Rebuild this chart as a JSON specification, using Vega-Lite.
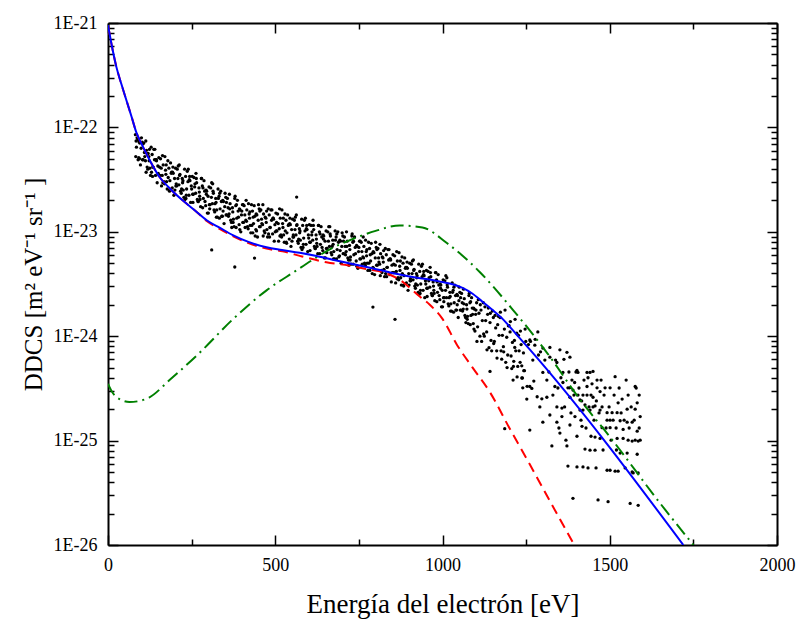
{
 "$schema": "https://vega.github.io/schema/vega-lite/v6.json",
 "width": 669, "height": 522,
 "autosize": {"type": "none"},
 "padding": {"left": 108, "top": 23, "right": 21, "bottom": 74},
 "background": "white",
 "config": {"font": "Liberation Serif", "view": {"stroke": null}, "axis": {"labelFont": "Liberation Serif", "titleFont": "Liberation Serif", "labelColor": "black", "titleColor": "black", "domainColor": "black", "tickColor": "black", "grid": false, "domainWidth": 2, "tickWidth": 1.5, "labelFontSize": 18, "titleFontSize": 24, "titleFontWeight": "normal"}},
 "datasets": {
  "pts": [
{"e":82,"d":8.51e-23},{"e":85,"d":6.46e-23},{"e":89,"d":7.59e-23},
{"e":92,"d":5.13e-23},{"e":95,"d":7.08e-23},{"e":99,"d":6.31e-23},
{"e":102,"d":7.24e-23},{"e":105,"d":4.90e-23},{"e":109,"d":5.75e-23},
{"e":112,"d":4.79e-23},{"e":115,"d":6.03e-23},{"e":119,"d":3.98e-23},
{"e":122,"d":5.25e-23},{"e":125,"d":4.07e-23},{"e":129,"d":6.46e-23},
{"e":132,"d":5.50e-23},{"e":135,"d":4.17e-23},{"e":139,"d":4.90e-23},
{"e":142,"d":3.47e-23},{"e":145,"d":4.79e-23},{"e":149,"d":4.27e-23},
{"e":152,"d":5.13e-23},{"e":155,"d":3.47e-23},{"e":159,"d":4.07e-23},
{"e":162,"d":3.47e-23},{"e":165,"d":4.37e-23},{"e":169,"d":2.88e-23},
{"e":172,"d":3.89e-23},{"e":175,"d":3.02e-23},{"e":179,"d":4.79e-23},
{"e":182,"d":4.07e-23},{"e":185,"d":3.09e-23},{"e":189,"d":3.63e-23},
{"e":192,"d":2.63e-23},{"e":195,"d":3.63e-23},{"e":199,"d":3.24e-23},
{"e":202,"d":4.07e-23},{"e":205,"d":2.75e-23},{"e":209,"d":3.24e-23},
{"e":212,"d":2.82e-23},{"e":215,"d":3.55e-23},{"e":219,"d":2.34e-23},
{"e":222,"d":3.24e-23},{"e":225,"d":2.51e-23},{"e":229,"d":3.98e-23},
{"e":232,"d":3.39e-23},{"e":235,"d":2.57e-23},{"e":239,"d":3.02e-23},
{"e":242,"d":2.24e-23},{"e":245,"d":3.09e-23},{"e":249,"d":2.75e-23},
{"e":252,"d":3.39e-23},{"e":255,"d":2.29e-23},{"e":259,"d":2.69e-23},
{"e":262,"d":2.34e-23},{"e":265,"d":2.95e-23},{"e":269,"d":1.95e-23},
{"e":272,"d":2.63e-23},{"e":275,"d":2.04e-23},{"e":279,"d":3.24e-23},
{"e":282,"d":2.75e-23},{"e":285,"d":2.09e-23},{"e":289,"d":2.45e-23},
{"e":292,"d":1.78e-23},{"e":295,"d":2.45e-23},{"e":299,"d":2.19e-23},
{"e":302,"d":2.69e-23},{"e":305,"d":1.82e-23},{"e":309,"d":2.14e-23},
{"e":312,"d":1.86e-23},{"e":315,"d":2.34e-23},{"e":319,"d":1.55e-23},
{"e":322,"d":2.09e-23},{"e":325,"d":1.62e-23},{"e":329,"d":2.57e-23},
{"e":332,"d":2.19e-23},{"e":335,"d":1.66e-23},{"e":339,"d":1.95e-23},
{"e":342,"d":1.41e-23},{"e":345,"d":1.95e-23},{"e":349,"d":1.74e-23},
{"e":352,"d":2.14e-23},{"e":355,"d":1.45e-23},{"e":359,"d":1.70e-23},
{"e":362,"d":1.48e-23},{"e":365,"d":1.86e-23},{"e":369,"d":1.23e-23},
{"e":372,"d":1.70e-23},{"e":375,"d":1.32e-23},{"e":379,"d":2.09e-23},
{"e":382,"d":1.78e-23},{"e":385,"d":1.35e-23},{"e":389,"d":1.58e-23},
{"e":392,"d":1.17e-23},{"e":395,"d":1.62e-23},{"e":399,"d":1.45e-23},
{"e":402,"d":1.82e-23},{"e":405,"d":1.23e-23},{"e":409,"d":1.45e-23},
{"e":412,"d":1.29e-23},{"e":415,"d":1.62e-23},{"e":419,"d":1.07e-23},
{"e":422,"d":1.48e-23},{"e":425,"d":1.15e-23},{"e":429,"d":1.82e-23},
{"e":432,"d":1.58e-23},{"e":435,"d":1.20e-23},{"e":439,"d":1.41e-23},
{"e":442,"d":1.05e-23},{"e":445,"d":1.45e-23},{"e":449,"d":1.29e-23},
{"e":452,"d":1.66e-23},{"e":455,"d":1.12e-23},{"e":459,"d":1.32e-23},
{"e":462,"d":1.17e-23},{"e":465,"d":1.48e-23},{"e":469,"d":9.77e-24},
{"e":472,"d":1.35e-23},{"e":475,"d":1.05e-23},{"e":479,"d":1.66e-23},
{"e":482,"d":1.45e-23},{"e":485,"d":1.10e-23},{"e":489,"d":1.29e-23},
{"e":492,"d":9.55e-24},{"e":495,"d":1.32e-23},{"e":499,"d":1.17e-23},
{"e":502,"d":1.51e-23},{"e":505,"d":1.02e-23},{"e":509,"d":1.20e-23},
{"e":512,"d":1.07e-23},{"e":515,"d":1.35e-23},{"e":519,"d":8.91e-24},
{"e":522,"d":1.20e-23},{"e":525,"d":9.33e-24},{"e":529,"d":1.48e-23},
{"e":532,"d":1.29e-23},{"e":535,"d":9.77e-24},{"e":539,"d":1.15e-23},
{"e":542,"d":8.51e-24},{"e":545,"d":1.17e-23},{"e":549,"d":1.05e-23},
{"e":552,"d":1.32e-23},{"e":555,"d":8.91e-24},{"e":559,"d":1.05e-23},
{"e":562,"d":9.33e-24},{"e":565,"d":1.17e-23},{"e":569,"d":7.76e-24},
{"e":572,"d":1.07e-23},{"e":575,"d":8.32e-24},{"e":579,"d":1.32e-23},
{"e":582,"d":1.15e-23},{"e":585,"d":8.71e-24},{"e":589,"d":1.02e-23},
{"e":592,"d":7.59e-24},{"e":595,"d":1.05e-23},{"e":599,"d":9.33e-24},
{"e":602,"d":1.17e-23},{"e":605,"d":7.94e-24},{"e":609,"d":9.33e-24},
{"e":612,"d":8.32e-24},{"e":615,"d":1.05e-23},{"e":619,"d":6.92e-24},
{"e":622,"d":9.33e-24},{"e":625,"d":7.24e-24},{"e":629,"d":1.15e-23},
{"e":632,"d":1.00e-23},{"e":635,"d":7.59e-24},{"e":639,"d":8.91e-24},
{"e":642,"d":6.61e-24},{"e":645,"d":9.12e-24},{"e":649,"d":8.13e-24},
{"e":652,"d":1.02e-23},{"e":655,"d":6.92e-24},{"e":659,"d":8.13e-24},
{"e":662,"d":7.24e-24},{"e":665,"d":9.12e-24},{"e":669,"d":6.03e-24},
{"e":672,"d":8.32e-24},{"e":675,"d":6.46e-24},{"e":679,"d":1.02e-23},
{"e":682,"d":8.91e-24},{"e":685,"d":6.76e-24},{"e":689,"d":7.94e-24},
{"e":692,"d":5.89e-24},{"e":695,"d":8.13e-24},{"e":699,"d":7.24e-24},
{"e":702,"d":9.12e-24},{"e":705,"d":6.17e-24},{"e":709,"d":7.24e-24},
{"e":712,"d":6.46e-24},{"e":715,"d":8.13e-24},{"e":719,"d":5.37e-24},
{"e":722,"d":7.41e-24},{"e":725,"d":5.75e-24},{"e":729,"d":9.12e-24},
{"e":732,"d":7.94e-24},{"e":735,"d":6.03e-24},{"e":739,"d":7.08e-24},
{"e":742,"d":5.25e-24},{"e":745,"d":7.24e-24},{"e":749,"d":6.46e-24},
{"e":752,"d":8.13e-24},{"e":755,"d":5.50e-24},{"e":759,"d":6.46e-24},
{"e":762,"d":5.75e-24},{"e":765,"d":7.24e-24},{"e":769,"d":4.79e-24},
{"e":772,"d":6.46e-24},{"e":775,"d":5.01e-24},{"e":779,"d":7.94e-24},
{"e":782,"d":6.92e-24},{"e":785,"d":5.25e-24},{"e":789,"d":6.17e-24},
{"e":792,"d":4.57e-24},{"e":795,"d":6.31e-24},{"e":799,"d":5.62e-24},
{"e":802,"d":7.08e-24},{"e":805,"d":4.79e-24},{"e":809,"d":5.62e-24},
{"e":812,"d":4.90e-24},{"e":815,"d":6.17e-24},{"e":819,"d":4.07e-24},
{"e":822,"d":5.62e-24},{"e":825,"d":4.37e-24},{"e":829,"d":6.92e-24},
{"e":832,"d":6.03e-24},{"e":835,"d":4.57e-24},{"e":839,"d":5.37e-24},
{"e":842,"d":3.89e-24},{"e":845,"d":5.37e-24},{"e":849,"d":4.79e-24},
{"e":852,"d":6.03e-24},{"e":855,"d":4.07e-24},{"e":859,"d":4.79e-24},
{"e":862,"d":4.17e-24},{"e":865,"d":5.25e-24},{"e":869,"d":3.47e-24},
{"e":872,"d":4.68e-24},{"e":875,"d":3.63e-24},{"e":879,"d":5.75e-24},
{"e":882,"d":5.01e-24},{"e":885,"d":3.80e-24},{"e":889,"d":4.47e-24},
{"e":892,"d":3.24e-24},{"e":895,"d":4.47e-24},{"e":899,"d":3.98e-24},
{"e":902,"d":5.01e-24},{"e":905,"d":3.39e-24},{"e":909,"d":3.98e-24},
{"e":912,"d":3.47e-24},{"e":915,"d":4.37e-24},{"e":919,"d":2.88e-24},
{"e":922,"d":3.98e-24},{"e":925,"d":3.09e-24},{"e":929,"d":4.90e-24},
{"e":932,"d":4.17e-24},{"e":935,"d":3.16e-24},{"e":939,"d":3.72e-24},
{"e":942,"d":2.75e-24},{"e":945,"d":3.80e-24},{"e":949,"d":3.39e-24},
{"e":952,"d":4.27e-24},{"e":955,"d":2.88e-24},{"e":959,"d":3.39e-24},
{"e":962,"d":2.95e-24},{"e":965,"d":3.72e-24},{"e":969,"d":2.45e-24},
{"e":972,"d":3.31e-24},{"e":975,"d":2.57e-24},{"e":979,"d":4.07e-24},
{"e":982,"d":3.47e-24},{"e":985,"d":2.63e-24},{"e":989,"d":3.09e-24},
{"e":992,"d":2.24e-24},{"e":995,"d":3.09e-24},{"e":999,"d":2.75e-24},
{"e":1002,"d":3.47e-24},{"e":1005,"d":2.34e-24},{"e":1009,"d":2.75e-24},
{"e":1012,"d":2.34e-24},{"e":1015,"d":2.95e-24},{"e":1019,"d":1.95e-24},
{"e":1022,"d":2.63e-24},{"e":1025,"d":2.04e-24},{"e":1029,"d":3.24e-24},
{"e":1032,"d":2.75e-24},{"e":1035,"d":2.09e-24},{"e":1039,"d":2.45e-24},
{"e":1042,"d":1.78e-24},{"e":1045,"d":2.45e-24},{"e":1049,"d":2.19e-24},
{"e":1052,"d":2.63e-24},{"e":1055,"d":1.78e-24},{"e":1059,"d":2.09e-24},
{"e":1062,"d":1.82e-24},{"e":1065,"d":2.29e-24},{"e":1069,"d":1.51e-24},
{"e":1072,"d":2.00e-24},{"e":1075,"d":1.55e-24},{"e":1079,"d":2.45e-24},
{"e":1082,"d":2.09e-24},{"e":1085,"d":1.58e-24},{"e":1089,"d":1.86e-24},
{"e":1092,"d":1.32e-24},{"e":1095,"d":1.82e-24},{"e":1099,"d":1.62e-24},
{"e":1102,"d":2.09e-24},{"e":1105,"d":1.23e-24},{"e":1109,"d":1.66e-24},
{"e":1112,"d":1.00e-24},{"e":1115,"d":1.78e-24},{"e":1119,"d":1.41e-24},
{"e":1122,"d":2.09e-24},{"e":1125,"d":1.00e-24},{"e":1129,"d":1.41e-24},
{"e":1132,"d":1.10e-24},{"e":1135,"d":1.62e-24},{"e":1139,"d":7.76e-25},
{"e":1142,"d":1.35e-24},{"e":1145,"d":9.12e-25},{"e":1149,"d":1.74e-24},
{"e":1152,"d":1.51e-24},{"e":1155,"d":8.91e-25},{"e":1159,"d":1.20e-24},
{"e":1162,"d":7.24e-25},{"e":1165,"d":1.29e-24},{"e":1169,"d":1.02e-24},
{"e":1172,"d":1.51e-24},{"e":1175,"d":7.24e-25},{"e":1179,"d":1.02e-24},
{"e":1182,"d":7.94e-25},{"e":1185,"d":1.17e-24},{"e":1189,"d":5.62e-25},
{"e":1192,"d":9.77e-25},{"e":1195,"d":6.61e-25},{"e":1199,"d":1.26e-24},
{"e":1202,"d":1.10e-24},{"e":1205,"d":6.46e-25},{"e":1209,"d":8.71e-25},
{"e":1212,"d":5.13e-25},{"e":1215,"d":9.12e-25},{"e":1219,"d":7.24e-25},
{"e":1222,"d":1.07e-24},{"e":1225,"d":5.13e-25},{"e":1229,"d":7.24e-25},
{"e":1232,"d":5.62e-25},{"e":1235,"d":8.32e-25},{"e":1239,"d":3.98e-25},
{"e":1242,"d":6.92e-25},{"e":1245,"d":4.68e-25},{"e":1249,"d":8.91e-25},
{"e":83,"d":5.25e-23},{"e":87,"d":7.94e-23},{"e":93,"d":7.24e-23},{"e":97,"d":4.37e-23},{"e":103,"d":4.90e-23},{"e":107,"d":7.08e-23},{"e":113,"d":7.41e-23},{"e":117,"d":4.17e-23},{"e":123,"d":4.79e-23},{"e":127,"d":3.47e-23},
{"e":133,"d":3.39e-23},{"e":137,"d":6.17e-23},{"e":143,"d":4.90e-23},{"e":147,"d":2.95e-23},{"e":153,"d":3.47e-23},{"e":157,"d":5.01e-23},{"e":163,"d":5.37e-23},{"e":167,"d":3.02e-23},{"e":173,"d":3.55e-23},{"e":177,"d":2.57e-23},
{"e":183,"d":2.51e-23},{"e":187,"d":4.57e-23},{"e":193,"d":3.72e-23},{"e":197,"d":2.24e-23},{"e":203,"d":2.75e-23},{"e":207,"d":3.98e-23},{"e":213,"d":4.37e-23},{"e":217,"d":2.45e-23},{"e":223,"d":2.95e-23},{"e":227,"d":2.14e-23},
{"e":233,"d":2.09e-23},{"e":237,"d":3.80e-23},{"e":243,"d":3.16e-23},{"e":247,"d":1.91e-23},{"e":253,"d":2.29e-23},{"e":257,"d":3.31e-23},{"e":263,"d":3.63e-23},{"e":267,"d":2.04e-23},{"e":273,"d":2.40e-23},{"e":277,"d":1.74e-23},
{"e":283,"d":1.70e-23},{"e":287,"d":3.09e-23},{"e":293,"d":2.51e-23},{"e":297,"d":1.51e-23},{"e":303,"d":1.82e-23},{"e":307,"d":2.63e-23},{"e":313,"d":2.88e-23},{"e":317,"d":1.62e-23},{"e":323,"d":1.91e-23},{"e":327,"d":1.38e-23},
{"e":333,"d":1.35e-23},{"e":337,"d":2.45e-23},{"e":343,"d":2.00e-23},{"e":347,"d":1.20e-23},{"e":353,"d":1.45e-23},{"e":357,"d":2.09e-23},{"e":363,"d":2.29e-23},{"e":367,"d":1.29e-23},{"e":373,"d":1.55e-23},{"e":377,"d":1.12e-23},
{"e":383,"d":1.10e-23},{"e":387,"d":2.00e-23},{"e":393,"d":1.66e-23},{"e":397,"d":1.00e-23},{"e":403,"d":1.23e-23},{"e":407,"d":1.78e-23},{"e":413,"d":2.00e-23},{"e":417,"d":1.12e-23},{"e":423,"d":1.35e-23},{"e":427,"d":9.77e-24},
{"e":433,"d":9.77e-24},{"e":437,"d":1.78e-23},{"e":443,"d":1.48e-23},{"e":447,"d":8.91e-24},{"e":453,"d":1.12e-23},{"e":457,"d":1.62e-23},{"e":463,"d":1.82e-23},{"e":467,"d":1.02e-23},{"e":473,"d":1.23e-23},{"e":477,"d":8.91e-24},
{"e":483,"d":8.91e-24},{"e":487,"d":1.62e-23},{"e":493,"d":1.35e-23},{"e":497,"d":8.13e-24},{"e":503,"d":1.02e-23},{"e":507,"d":1.48e-23},{"e":513,"d":1.66e-23},{"e":517,"d":9.33e-24},{"e":523,"d":1.10e-23},{"e":527,"d":7.94e-24},
{"e":533,"d":7.94e-24},{"e":537,"d":1.45e-23},{"e":543,"d":1.20e-23},{"e":547,"d":7.24e-24},{"e":553,"d":8.91e-24},{"e":557,"d":1.29e-23},{"e":563,"d":1.45e-23},{"e":567,"d":8.13e-24},{"e":573,"d":9.77e-24},{"e":577,"d":7.08e-24},
{"e":583,"d":7.08e-24},{"e":587,"d":1.29e-23},{"e":593,"d":1.07e-23},{"e":597,"d":6.46e-24},{"e":603,"d":7.94e-24},{"e":607,"d":1.15e-23},{"e":613,"d":1.29e-23},{"e":617,"d":7.24e-24},{"e":623,"d":8.51e-24},{"e":627,"d":6.17e-24},
{"e":633,"d":6.17e-24},{"e":637,"d":1.12e-23},{"e":643,"d":9.33e-24},{"e":647,"d":5.62e-24},{"e":653,"d":6.92e-24},{"e":657,"d":1.00e-23},{"e":663,"d":1.12e-23},{"e":667,"d":6.31e-24},{"e":673,"d":7.59e-24},{"e":677,"d":5.50e-24},
{"e":683,"d":5.50e-24},{"e":687,"d":1.00e-23},{"e":693,"d":8.32e-24},{"e":697,"d":5.01e-24},{"e":703,"d":6.17e-24},{"e":707,"d":8.91e-24},{"e":713,"d":1.00e-23},{"e":717,"d":5.62e-24},{"e":723,"d":6.76e-24},{"e":727,"d":4.90e-24},
{"e":733,"d":4.90e-24},{"e":737,"d":8.91e-24},{"e":743,"d":7.41e-24},{"e":747,"d":4.47e-24},{"e":753,"d":5.50e-24},{"e":757,"d":7.94e-24},{"e":763,"d":8.91e-24},{"e":767,"d":5.01e-24},{"e":773,"d":5.89e-24},{"e":777,"d":4.27e-24},
{"e":783,"d":4.27e-24},{"e":787,"d":7.76e-24},{"e":793,"d":6.46e-24},{"e":797,"d":3.89e-24},{"e":803,"d":4.79e-24},{"e":807,"d":6.92e-24},{"e":813,"d":7.59e-24},{"e":817,"d":4.27e-24},{"e":823,"d":5.13e-24},{"e":827,"d":3.72e-24},
{"e":833,"d":3.72e-24},{"e":837,"d":6.76e-24},{"e":843,"d":5.50e-24},{"e":847,"d":3.31e-24},{"e":853,"d":4.07e-24},{"e":857,"d":5.89e-24},{"e":863,"d":6.46e-24},{"e":867,"d":3.63e-24},{"e":873,"d":4.27e-24},{"e":877,"d":3.09e-24},
{"e":883,"d":3.09e-24},{"e":887,"d":5.62e-24},{"e":893,"d":4.57e-24},{"e":897,"d":2.75e-24},{"e":903,"d":3.39e-24},{"e":907,"d":4.90e-24},{"e":913,"d":5.37e-24},{"e":917,"d":3.02e-24},{"e":923,"d":3.63e-24},{"e":927,"d":2.63e-24},
{"e":933,"d":2.57e-24},{"e":937,"d":4.68e-24},{"e":943,"d":3.89e-24},{"e":947,"d":2.34e-24},{"e":953,"d":2.88e-24},{"e":957,"d":4.17e-24},{"e":963,"d":4.57e-24},{"e":967,"d":2.57e-24},{"e":973,"d":3.02e-24},{"e":977,"d":2.19e-24},
{"e":983,"d":2.14e-24},{"e":987,"d":3.89e-24},{"e":993,"d":3.16e-24},{"e":997,"d":1.91e-24},{"e":1003,"d":2.34e-24},{"e":1007,"d":3.39e-24},{"e":1013,"d":3.63e-24},{"e":1017,"d":2.04e-24},{"e":1023,"d":2.40e-24},{"e":1027,"d":1.74e-24},
{"e":1033,"d":1.70e-24},{"e":1037,"d":3.09e-24},{"e":1043,"d":2.51e-24},{"e":1047,"d":1.51e-24},{"e":1053,"d":1.78e-24},{"e":1057,"d":2.57e-24},{"e":1063,"d":2.82e-24},{"e":1067,"d":1.58e-24},{"e":1073,"d":1.82e-24},{"e":1077,"d":1.32e-24},
{"e":1083,"d":1.29e-24},{"e":1087,"d":2.34e-24},{"e":1093,"d":1.86e-24},{"e":1097,"d":1.12e-24},
{"e":84,"d":7.41e-23},{"e":90,"d":4.90e-23},{"e":94,"d":5.01e-23},{"e":100,"d":7.94e-23},{"e":104,"d":6.92e-23},{"e":110,"d":5.25e-23},{"e":114,"d":3.72e-23},{"e":120,"d":5.62e-23},{"e":124,"d":6.17e-23},{"e":130,"d":3.72e-23},
{"e":134,"d":4.17e-23},{"e":140,"d":6.17e-23},{"e":144,"d":4.90e-23},{"e":150,"d":3.63e-23},{"e":154,"d":4.17e-23},{"e":160,"d":2.75e-23},{"e":164,"d":2.95e-23},{"e":170,"d":5.25e-23},{"e":174,"d":4.37e-23},{"e":180,"d":3.31e-23},
{"e":184,"d":2.45e-23},{"e":190,"d":3.72e-23},{"e":194,"d":4.17e-23},{"e":200,"d":2.51e-23},{"e":204,"d":2.88e-23},{"e":210,"d":4.27e-23},{"e":214,"d":3.47e-23},{"e":220,"d":2.57e-23},{"e":224,"d":3.09e-23},{"e":230,"d":2.04e-23},
{"e":234,"d":2.24e-23},{"e":240,"d":3.98e-23},{"e":244,"d":3.39e-23},{"e":250,"d":2.57e-23},{"e":254,"d":1.91e-23},{"e":260,"d":2.88e-23},{"e":264,"d":3.24e-23},{"e":270,"d":1.95e-23},{"e":274,"d":2.19e-23},{"e":280,"d":3.24e-23},
{"e":284,"d":2.63e-23},{"e":290,"d":1.95e-23},{"e":294,"d":2.29e-23},{"e":300,"d":1.51e-23},{"e":304,"d":1.66e-23},{"e":310,"d":2.95e-23},{"e":314,"d":2.45e-23},{"e":320,"d":1.86e-23},{"e":324,"d":1.38e-23},{"e":330,"d":2.09e-23},
{"e":334,"d":2.34e-23},{"e":340,"d":1.41e-23},{"e":344,"d":1.58e-23},{"e":350,"d":2.34e-23},{"e":354,"d":1.91e-23},{"e":360,"d":1.41e-23},{"e":364,"d":1.66e-23},{"e":370,"d":1.10e-23},{"e":374,"d":1.23e-23},{"e":380,"d":2.19e-23},
{"e":384,"d":1.82e-23},{"e":390,"d":1.38e-23},{"e":394,"d":1.05e-23},{"e":400,"d":1.58e-23},{"e":404,"d":1.82e-23},{"e":410,"d":1.10e-23},{"e":414,"d":1.26e-23},{"e":420,"d":1.86e-23},{"e":424,"d":1.55e-23},{"e":430,"d":1.15e-23},
{"e":434,"d":1.38e-23},{"e":440,"d":9.12e-24},{"e":444,"d":1.02e-23},{"e":450,"d":1.82e-23},{"e":454,"d":1.58e-23},{"e":460,"d":1.20e-23},{"e":464,"d":9.12e-24},{"e":470,"d":1.38e-23},{"e":474,"d":1.58e-23},{"e":480,"d":9.55e-24},
{"e":484,"d":1.10e-23},{"e":490,"d":1.62e-23},{"e":494,"d":1.35e-23},{"e":500,"d":1.00e-23},{"e":504,"d":1.23e-23},{"e":510,"d":8.13e-24},{"e":514,"d":9.12e-24},{"e":520,"d":1.62e-23},{"e":524,"d":1.35e-23},{"e":530,"d":1.02e-23},
{"e":534,"d":7.76e-24},{"e":540,"d":1.17e-23},{"e":544,"d":1.35e-23},{"e":550,"d":8.13e-24},{"e":554,"d":9.33e-24},{"e":560,"d":1.38e-23},{"e":564,"d":1.15e-23},{"e":570,"d":8.51e-24},{"e":574,"d":1.02e-23},{"e":580,"d":6.76e-24},
{"e":584,"d":7.59e-24},{"e":590,"d":1.35e-23},{"e":594,"d":1.15e-23},{"e":600,"d":8.71e-24},{"e":604,"d":6.61e-24},{"e":610,"d":1.00e-23},{"e":614,"d":1.15e-23},{"e":620,"d":6.92e-24},{"e":624,"d":7.76e-24},{"e":630,"d":1.15e-23},
{"e":634,"d":9.55e-24},{"e":640,"d":7.08e-24},{"e":644,"d":8.51e-24},{"e":650,"d":5.62e-24},{"e":654,"d":6.31e-24},{"e":660,"d":1.12e-23},{"e":664,"d":9.55e-24},{"e":670,"d":7.24e-24},{"e":674,"d":5.50e-24},{"e":680,"d":8.32e-24},
{"e":684,"d":9.55e-24},{"e":690,"d":5.75e-24},{"e":694,"d":6.61e-24},{"e":700,"d":9.77e-24},{"e":704,"d":8.13e-24},{"e":710,"d":6.03e-24},{"e":714,"d":7.24e-24},{"e":720,"d":4.79e-24},{"e":724,"d":5.37e-24},{"e":730,"d":9.55e-24},
{"e":734,"d":8.13e-24},{"e":740,"d":6.17e-24},{"e":744,"d":4.68e-24},{"e":750,"d":7.08e-24},{"e":754,"d":8.13e-24},{"e":760,"d":4.90e-24},{"e":764,"d":5.62e-24},{"e":770,"d":8.32e-24},{"e":774,"d":6.76e-24},{"e":780,"d":5.01e-24},
{"e":784,"d":6.03e-24},{"e":790,"d":3.98e-24},{"e":794,"d":4.47e-24},{"e":800,"d":7.94e-24},{"e":804,"d":6.76e-24},{"e":810,"d":5.13e-24},{"e":814,"d":3.80e-24},{"e":820,"d":5.75e-24},{"e":824,"d":6.61e-24},{"e":830,"d":3.98e-24},
{"e":834,"d":4.57e-24},{"e":840,"d":6.76e-24},{"e":844,"d":5.50e-24},{"e":850,"d":4.07e-24},{"e":854,"d":4.90e-24},{"e":860,"d":3.24e-24},{"e":864,"d":3.55e-24},{"e":870,"d":6.31e-24},{"e":874,"d":5.25e-24},{"e":880,"d":3.98e-24},
{"e":884,"d":3.02e-24},{"e":890,"d":4.57e-24},{"e":894,"d":5.13e-24},{"e":900,"d":3.09e-24},{"e":904,"d":3.55e-24},{"e":910,"d":5.25e-24},{"e":914,"d":4.27e-24},{"e":920,"d":3.16e-24},{"e":924,"d":3.80e-24},{"e":930,"d":2.51e-24},
{"e":934,"d":2.75e-24},{"e":940,"d":4.90e-24},{"e":944,"d":4.17e-24},{"e":950,"d":3.16e-24},{"e":954,"d":2.40e-24},{"e":960,"d":3.63e-24},{"e":964,"d":4.07e-24},{"e":970,"d":2.45e-24},{"e":974,"d":2.75e-24},{"e":980,"d":4.07e-24},
{"e":984,"d":3.31e-24},{"e":990,"d":2.45e-24},{"e":994,"d":2.88e-24},{"e":1000,"d":1.91e-24},{"e":1004,"d":2.14e-24},{"e":1010,"d":3.80e-24},{"e":1014,"d":3.09e-24},{"e":1020,"d":2.34e-24},{"e":1024,"d":1.74e-24},{"e":1030,"d":2.63e-24},
{"e":1034,"d":2.95e-24},{"e":1040,"d":1.78e-24},{"e":1044,"d":2.00e-24},{"e":1050,"d":2.95e-24},{"e":1054,"d":2.34e-24},{"e":1060,"d":1.74e-24},{"e":1064,"d":2.04e-24},{"e":1070,"d":1.35e-24},{"e":1074,"d":1.45e-24},{"e":1080,"d":2.57e-24},
{"e":1084,"d":2.14e-24},{"e":1090,"d":1.62e-24},{"e":1094,"d":1.17e-24},{"e":1100,"d":1.78e-24},
{"e":1103,"d":8.91e-25},{"e":1107,"d":2.24e-24},{"e":1113,"d":2.0e-24},{"e":1117,"d":8.91e-25},{"e":1123,"d":1.05e-24},{"e":1127,"d":1.91e-24},{"e":1133,"d":7.41e-25},{"e":1137,"d":1.86e-24},{"e":1143,"d":1.66e-24},{"e":1147,"d":7.24e-25},
{"e":1153,"d":8.51e-25},{"e":1157,"d":1.58e-24},{"e":1163,"d":6.17e-25},{"e":1167,"d":1.55e-24},{"e":1173,"d":1.70e-24},{"e":1177,"d":6.03e-25},{"e":1183,"d":7.08e-25},{"e":1187,"d":1.78e-24},{"e":1193,"d":5.01e-25},{"e":1197,"d":1.26e-24},
{"e":1203,"d":1.38e-24},{"e":1207,"d":4.90e-25},{"e":1213,"d":5.75e-25},{"e":1217,"d":1.45e-24},{"e":1223,"d":4.07e-25},{"e":1227,"d":1.02e-24},{"e":1233,"d":1.12e-24},{"e":1237,"d":3.98e-25},{"e":1243,"d":4.68e-25},{"e":1247,"d":1.17e-24},
{"e":1253,"d":3.31e-25},{"e":1257,"d":8.32e-25},{"e":1263,"d":8.91e-25},{"e":1267,"d":3.16e-25},{"e":1273,"d":3.72e-25},{"e":1277,"d":9.33e-25},{"e":1283,"d":2.63e-25},{"e":1287,"d":6.61e-25},{"e":1293,"d":7.08e-25},{"e":1297,"d":2.51e-25},
{"e":564,"d":2.15e-23},{"e":310,"d":6.7e-24},{"e":379,"d":4.6e-24},{"e":438,"d":5.6e-24},{"e":792,"d":1.9e-24},{"e":858,"d":1.45e-24},
{"e":1211,"d":3.8e-25},{"e":1237,"d":5.2e-25},{"e":1261,"d":3.3e-25},{"e":1252,"d":2.5e-25},{"e":1240,"d":3.2e-25},{"e":1261,"d":1.26e-25},{"e":1186,"d":1.3e-25},{"e":1142,"d":4.6e-25},{"e":1216,"d":7.8e-25},{"e":1300,"d":1.5e-25},{"e":1342,"d":1.5e-25},{"e":1276,"d":8.2e-25},{"e":1306,"d":5.9e-25},
{"e":1261,"d":9.2e-25},{"e":1270,"d":5.9e-25},{"e":1285,"d":1.10e-24},{"e":1291,"d":2.1e-25},{"e":1300,"d":7.7e-25},{"e":1300,"d":4.5e-25},{"e":1312,"d":3.8e-25},{"e":1312,"d":2.6e-25},{"e":1321,"d":7.8e-25},{"e":1321,"d":6.3e-25},
{"e":1321,"d":1.76e-25},{"e":1327,"d":8.9e-26},{"e":1336,"d":3.3e-25},{"e":1342,"d":5.6e-25},{"e":1342,"d":2.1e-25},{"e":1351,"d":7.4e-25},{"e":1351,"d":1.18e-25},{"e":1357,"d":2.05e-25},{"e":1357,"d":1.70e-25},{"e":1360,"d":4.5e-25},
{"e":1360,"d":3.6e-25},{"e":1372,"d":7.0e-25},{"e":1372,"d":8.9e-26},{"e":1375,"d":3.2e-25},{"e":1375,"d":5.7e-26},{"e":1381,"d":6.3e-25},{"e":1381,"d":2.6e-25},{"e":1381,"d":1.41e-25},{"e":1387,"d":3.8e-25},{"e":1390,"d":3.05e-25},
{"e":1390,"d":2.8e-26},{"e":1396,"d":1.70e-25},{"e":1402,"d":4.7e-25},{"e":1402,"d":1.1e-25},{"e":1402,"d":5.6e-26},{"e":1405,"d":4.5e-25},{"e":1405,"d":2.73e-25},{"e":1411,"d":2.45e-25},{"e":1411,"d":1.96e-25},{"e":1417,"d":1.37e-25},
{"e":1420,"d":2.73e-25},{"e":1420,"d":1.96e-25},{"e":1420,"d":5.6e-26},{"e":1426,"d":2.2e-25},{"e":1426,"d":8.3e-26},{"e":1432,"d":4.5e-25},{"e":1432,"d":3.3e-25},{"e":1432,"d":2.73e-25},{"e":1435,"d":4.0e-25},{"e":1441,"d":4.5e-25},
{"e":1441,"d":1.96e-25},{"e":1441,"d":8.1e-26},{"e":1447,"d":3.5e-25},{"e":1450,"d":4.6e-25},{"e":1450,"d":2.6e-25},{"e":1450,"d":2.1e-25},{"e":1456,"d":2.15e-25},{"e":1456,"d":1.08e-25},{"e":1456,"d":8.1e-26},{"e":1462,"d":3.8e-25},
{"e":1462,"d":3.2e-25},{"e":1465,"d":2.7e-26},{"e":1471,"d":2.95e-25},{"e":1471,"d":1.96e-25},{"e":1471,"d":1.05e-25},{"e":1477,"d":2.1e-25},{"e":1477,"d":1.33e-25},{"e":1486,"d":3.2e-25},{"e":1492,"d":1.85e-25},{"e":1492,"d":1.57e-25},
{"e":1492,"d":5.2e-26},{"e":1495,"d":2.6e-26},{"e":1501,"d":3.2e-25},{"e":1501,"d":1.57e-25},{"e":1501,"d":1.33e-25},{"e":1501,"d":5.2e-26},{"e":1507,"d":1.85e-25},{"e":1510,"d":1.57e-25},{"e":1516,"d":4.1e-25},{"e":1516,"d":5.1e-26},
{"e":1522,"d":1.85e-25},{"e":1522,"d":1.05e-25},{"e":1525,"d":2.3e-25},{"e":1525,"d":5.1e-26},{"e":1531,"d":1.55e-25},{"e":1531,"d":7.6e-26},{"e":1537,"d":2.5e-25},{"e":1540,"d":1.28e-25},{"e":1540,"d":1.05e-25},{"e":1552,"d":2.0e-25},
{"e":1552,"d":1.5e-25},{"e":1552,"d":7.6e-26},{"e":1555,"d":2.73e-25},{"e":1555,"d":1.01e-25},{"e":1561,"d":2.5e-26},{"e":1567,"d":1.5e-25},{"e":1567,"d":9.9e-26},{"e":1567,"d":5.0e-26},{"e":1570,"d":4.9e-26},{"e":1576,"d":3.3e-25},
{"e":1576,"d":2.0e-25},{"e":1576,"d":1.01e-25},{"e":1582,"d":2.3e-25},{"e":1582,"d":1.23e-25},{"e":1582,"d":7.4e-26},{"e":1585,"d":9.9e-26},{"e":1585,"d":4.9e-26},{"e":1585,"d":2.4e-26},{"e":1591,"d":1.7e-25},{"e":1591,"d":1.01e-25},
{"e":1318,"d":4.54e-25},{"e":1330,"d":2.73e-25},{"e":1345,"d":3.19e-25},{"e":1348,"d":1.32e-25},{"e":1365,"d":2.10e-25},{"e":1369,"d":1.01e-25},{"e":1378,"d":4.54e-25},{"e":1384,"d":1.84e-25},{"e":1393,"d":2.73e-25},{"e":1399,"d":4.54e-25},
{"e":1408,"d":3.19e-25},{"e":1414,"d":1.57e-25},{"e":1423,"d":3.8e-25},{"e":1429,"d":1.32e-25},{"e":1438,"d":2.10e-25},{"e":1444,"d":2.73e-25},{"e":1453,"d":1.57e-25},{"e":1459,"d":5.47e-26},{"e":1468,"d":1.84e-25},{"e":1474,"d":3.8e-25},
{"e":1480,"d":8.13e-26},{"e":1483,"d":2.73e-25},{"e":1489,"d":1.32e-25},{"e":1498,"d":2.10e-25},{"e":1504,"d":1.01e-25},{"e":1513,"d":2.73e-25},{"e":1519,"d":1.32e-25},{"e":1528,"d":3.19e-25},{"e":1534,"d":1.84e-25},{"e":1543,"d":1.57e-25},
{"e":1546,"d":5.47e-26},{"e":1549,"d":3.8e-25},{"e":1558,"d":1.32e-25},{"e":1564,"d":2.10e-25},{"e":1573,"d":1.57e-25},{"e":1579,"d":3.19e-25},{"e":1588,"d":1.32e-25},{"e":1588,"d":2.73e-25},{"e":1338,"d":5.9e-25},{"e":1354,"d":4.0e-25},
{"e":1363,"d":6.0e-25},{"e":1380,"d":3.2e-25},{"e":1395,"d":3.6e-25},{"e":1416,"d":2.4e-25},{"e":1444,"d":1.1e-25},{"e":1460,"d":2.4e-25},{"e":1520,"d":8.13e-26},{"e":1435,"d":5.47e-26}
  ],
  "blue": [
{"e":0,"d":9.55e-22},{"e":5,"d":7.8e-22},{"e":10,"d":6.4e-22},{"e":25,"d":3.8e-22},{"e":40,"d":2.6e-22},{"e":55,"d":1.82e-22},{"e":70,"d":1.28e-22},{"e":85,"d":8.9e-23},{"e":100,"d":7.0e-23},{"e":124,"d":4.9e-23},{"e":154,"d":3.35e-23},{"e":185,"d":2.6e-23},{"e":223,"d":2.0e-23},{"e":260,"d":1.6e-23},{"e":295,"d":1.29e-23},{"e":335,"d":1.09e-23},{"e":373,"d":9.3e-24},{"e":420,"d":8.0e-24},{"e":474,"d":7.1e-24},{"e":520,"d":6.7e-24},{"e":573,"d":6.3e-24},{"e":620,"d":5.9e-24},{"e":672,"d":5.4e-24},{"e":720,"d":5.0e-24},{"e":773,"d":4.6e-24},{"e":820,"d":4.25e-24},{"e":872,"d":3.9e-24},{"e":920,"d":3.65e-24},{"e":960,"d":3.5e-24},{"e":1000,"d":3.3e-24},{"e":1030,"d":3.15e-24},{"e":1060,"d":2.9e-24},{"e":1090,"d":2.55e-24},{"e":1112,"d":2.24e-24},{"e":1150,"d":1.78e-24},{"e":1181,"d":1.45e-24},{"e":1220,"d":1.05e-24},{"e":1262,"d":7.4e-25},{"e":1720,"d":1.0e-26}
  ],
  "red": [
{"e":0,"d":9.55e-22},{"e":5,"d":7.8e-22},{"e":10,"d":6.4e-22},{"e":25,"d":3.8e-22},{"e":40,"d":2.6e-22},{"e":55,"d":1.82e-22},{"e":70,"d":1.28e-22},{"e":85,"d":8.9e-23},{"e":100,"d":7.0e-23},{"e":124,"d":4.9e-23},{"e":154,"d":3.35e-23},{"e":185,"d":2.6e-23},{"e":223,"d":2.0e-23},{"e":260,"d":1.6e-23},{"e":295,"d":1.27e-23},{"e":335,"d":1.06e-23},{"e":373,"d":9.1e-24},{"e":420,"d":7.8e-24},{"e":474,"d":6.9e-24},{"e":522,"d":6.5e-24},{"e":580,"d":5.8e-24},{"e":653,"d":5.1e-24},{"e":720,"d":4.75e-24},{"e":780,"d":4.35e-24},{"e":822,"d":4.1e-24},{"e":872,"d":3.47e-24},{"e":932,"d":2.4e-24},{"e":962,"d":2.0e-24},{"e":1001,"d":1.45e-24},{"e":1043,"d":8.3e-25},{"e":1090,"d":5.0e-25},{"e":1142,"d":2.9e-25},{"e":1200,"d":1.32e-25},{"e":1260,"d":6.0e-26},{"e":1328,"d":2.4e-26},{"e":1394,"d":1.0e-26}
  ],
  "green": [
{"e":0,"d":3.5e-25},{"e":13,"d":2.9e-25},{"e":40,"d":2.45e-25},{"e":64,"d":2.34e-25},{"e":95,"d":2.4e-25},{"e":124,"d":2.6e-25},{"e":184,"d":3.8e-25},{"e":273,"d":6.9e-25},{"e":373,"d":1.45e-24},{"e":474,"d":2.75e-24},{"e":560,"d":4.2e-24},{"e":612,"d":5.4e-24},{"e":663,"d":6.8e-24},{"e":723,"d":8.3e-24},{"e":800,"d":1.02e-23},{"e":872,"d":1.15e-23},{"e":940,"d":1.10e-23},{"e":1013,"d":7.8e-24},{"e":1060,"d":5.9e-24},{"e":1112,"d":4.1e-24},{"e":1211,"d":1.78e-24},{"e":1313,"d":6.9e-25},{"e":1412,"d":2.45e-25},{"e":1502,"d":1.07e-25},{"e":1651,"d":2.5e-26},{"e":1750,"d":1.0e-26}
  ]
 },
 "resolve": {"axis": {"x": "independent", "y": "independent"}},
 "layer": [
  {
   "data": {"name": "pts"},
   "mark": {"type": "circle", "size": 11, "color": "black", "opacity": 1},
   "encoding": {
    "x": {"field": "e", "type": "quantitative", "scale": {"domain": [0, 2000], "nice": false},
     "axis": {"orient": "bottom", "values": [0,250,500,750,1000,1250,1500,1750,2000], "labelExpr": "datum.value % 500 === 0 ? '' + datum.value : ''", "tickSize": {"condition": {"test": "datum.value % 500 === 0", "value": -10}, "value": -6}, "labelPadding": 21, "labelFlush": false, "labelOverlap": false, "title": "Energía del electrón [eV]", "titleFontSize": 27, "titlePadding": 13}},
    "y": {"field": "d", "type": "quantitative", "scale": {"type": "log", "domain": [1e-26, 1e-21], "nice": false},
     "axis": {"orient": "left", "values": [1e-26,2e-26,3e-26,4e-26,5e-26,6e-26,7e-26,8e-26,9e-26,1e-25,2e-25,3e-25,4e-25,5e-25,6e-25,7e-25,8e-25,9e-25,1e-24,2e-24,3e-24,4e-24,5e-24,6e-24,7e-24,8e-24,9e-24,1e-23,2e-23,3e-23,4e-23,5e-23,6e-23,7e-23,8e-23,9e-23,1e-22,2e-22,3e-22,4e-22,5e-22,6e-22,7e-22,8e-22,9e-22,1e-21],
      "labelExpr": "abs(log(datum.value)/LN10 - round(log(datum.value)/LN10)) < 0.001 ? '1E' + round(log(datum.value)/LN10) : ''",
      "tickSize": {"condition": {"test": "abs(log(datum.value)/LN10 - round(log(datum.value)/LN10)) < 0.001", "value": -10}, "value": -6},
      "labelPadding": 21, "labelFlush": false, "labelOverlap": false, "title": "DDCS [m² eV⁻¹ sr⁻¹ ]", "titleFontSize": 25, "titlePadding": 7}}
   }
  },
  {
   "data": {"name": "green"},
   "mark": {"type": "line", "color": "#008000", "strokeWidth": 2, "strokeDash": [13, 5, 2, 5], "interpolate": "monotone", "clip": true},
   "encoding": {
    "x": {"field": "e", "type": "quantitative", "scale": {"domain": [0, 2000], "nice": false},
     "axis": {"orient": "top", "values": [0,250,500,750,1000,1250,1500,1750,2000], "labels": false, "title": null, "tickSize": {"condition": {"test": "datum.value % 500 === 0", "value": -10}, "value": -6}}},
    "y": {"field": "d", "type": "quantitative", "scale": {"type": "log", "domain": [1e-26, 1e-21], "nice": false},
     "axis": {"orient": "right", "values": [1e-26,2e-26,3e-26,4e-26,5e-26,6e-26,7e-26,8e-26,9e-26,1e-25,2e-25,3e-25,4e-25,5e-25,6e-25,7e-25,8e-25,9e-25,1e-24,2e-24,3e-24,4e-24,5e-24,6e-24,7e-24,8e-24,9e-24,1e-23,2e-23,3e-23,4e-23,5e-23,6e-23,7e-23,8e-23,9e-23,1e-22,2e-22,3e-22,4e-22,5e-22,6e-22,7e-22,8e-22,9e-22,1e-21],
      "labels": false, "title": null,
      "tickSize": {"condition": {"test": "abs(log(datum.value)/LN10 - round(log(datum.value)/LN10)) < 0.001", "value": -10}, "value": -6}}}
   }
  },
  {
   "data": {"name": "red"},
   "mark": {"type": "line", "color": "#ff0000", "strokeWidth": 2, "strokeDash": [10, 6], "interpolate": "monotone", "clip": true},
   "encoding": {
    "x": {"field": "e", "type": "quantitative", "axis": null},
    "y": {"field": "d", "type": "quantitative", "axis": null}
   }
  },
  {
   "data": {"name": "blue"},
   "mark": {"type": "line", "color": "#0000ff", "strokeWidth": 2, "interpolate": "monotone", "clip": true},
   "encoding": {
    "x": {"field": "e", "type": "quantitative", "axis": null},
    "y": {"field": "d", "type": "quantitative", "axis": null}
   }
  }
 ]
}
